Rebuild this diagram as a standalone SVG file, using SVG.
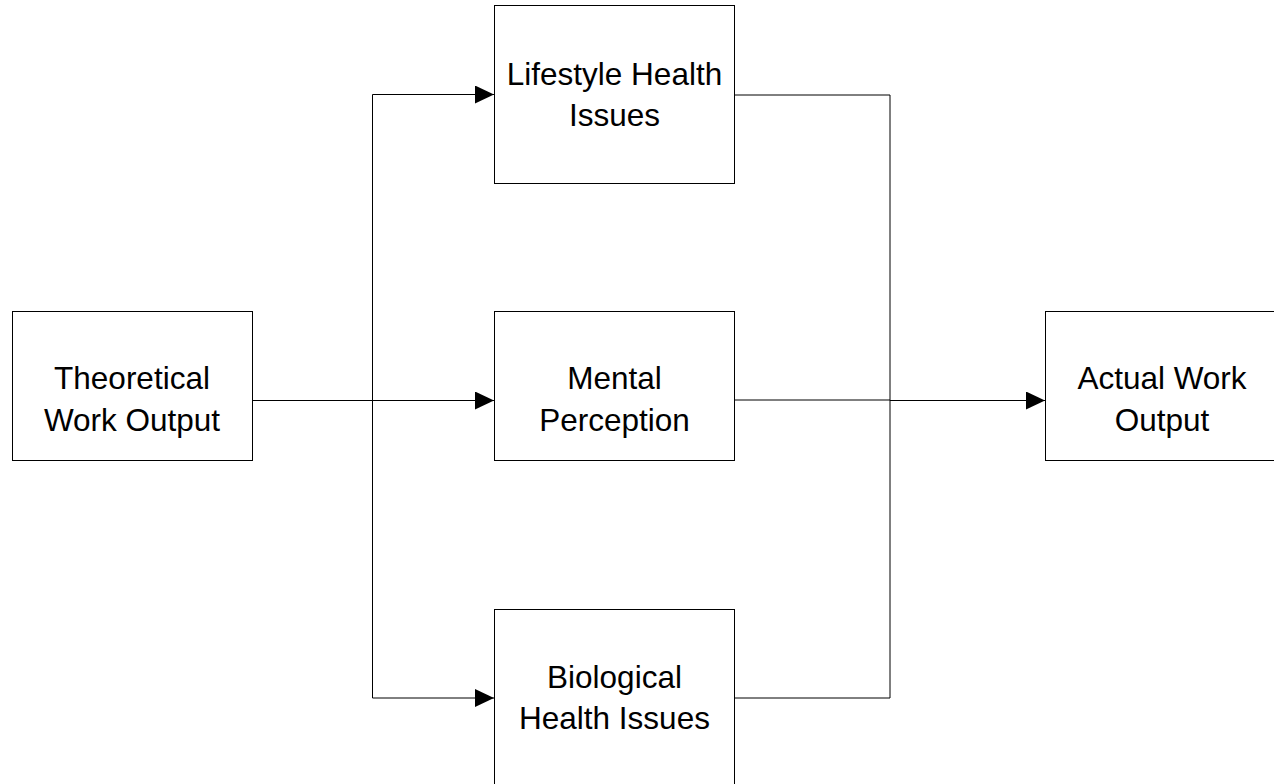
<svg xmlns="http://www.w3.org/2000/svg" width="1274" height="784" viewBox="0 0 1274 784">
  <style>
    .box { fill: #ffffff; stroke: #000000; stroke-width: 1; }
    .lbl { font-family: "Liberation Sans", Arial, sans-serif; font-size: 31.5px; fill: #000000; text-anchor: middle; }
    .conn { fill: none; stroke: #000000; stroke-width: 1; }
  </style>
  <defs>
    <marker id="arrow" viewBox="0 0 19 18" refX="19" refY="9" markerWidth="19" markerHeight="18" markerUnits="userSpaceOnUse" orient="auto">
      <path d="M0,0 L19,9 L0,18 Z" fill="#000000"/>
    </marker>
  </defs>
  <rect width="1274" height="784" fill="#ffffff"/>

  <g id="connectors">
    <path class="conn" d="M252.5,400.5 H372.5"/>
    <path class="conn" d="M372.5,400.5 H494" marker-end="url(#arrow)"/>
    <path class="conn" d="M372.5,698 V94.5 H494" marker-end="url(#arrow)"/>
    <path class="conn" d="M372.5,400 V698 H494" marker-end="url(#arrow)"/>
    <path class="conn" d="M735,95 H890 V698 H735"/>
    <path class="conn" d="M735,400 H890"/>
    <path class="conn" d="M890,400.5 H1045" marker-end="url(#arrow)"/>
  </g>

  <g id="node-theoretical">
    <rect class="box" x="12.5" y="311.5" width="240" height="149"/>
    <text class="lbl" x="132" y="389">Theoretical</text>
    <text class="lbl" x="132" y="431">Work Output</text>
  </g>

  <g id="node-lifestyle">
    <rect class="box" x="494.5" y="5.5" width="240" height="178"/>
    <text class="lbl" x="614.5" y="85">Lifestyle Health</text>
    <text class="lbl" x="614.5" y="126">Issues</text>
  </g>

  <g id="node-mental">
    <rect class="box" x="494.5" y="311.5" width="240" height="149"/>
    <text class="lbl" x="614.5" y="389">Mental</text>
    <text class="lbl" x="614.5" y="431">Perception</text>
  </g>

  <g id="node-biological">
    <rect class="box" x="494.5" y="609.5" width="240" height="178"/>
    <text class="lbl" x="614.5" y="688">Biological</text>
    <text class="lbl" x="614.5" y="729">Health Issues</text>
  </g>

  <g id="node-actual">
    <rect class="box" x="1045.5" y="311.5" width="240" height="149"/>
    <text class="lbl" x="1162" y="389">Actual Work</text>
    <text class="lbl" x="1162" y="431">Output</text>
  </g>
</svg>
